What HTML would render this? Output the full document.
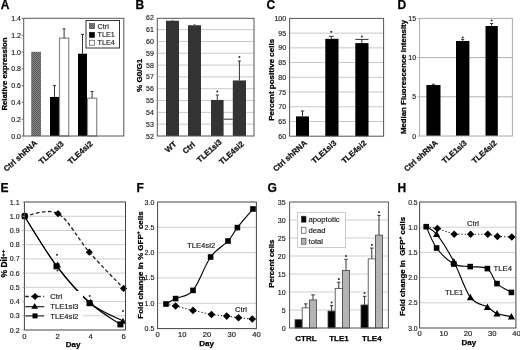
<!DOCTYPE html>
<html><head><meta charset="utf-8"><style>
html,body{margin:0;padding:0;background:#fff;}
svg{display:block;font-family:"Liberation Sans", sans-serif;will-change:transform;filter:blur(0.3px);}
</style></head><body>
<svg width="520" height="350" viewBox="0 0 520 350">
<defs>
<pattern id="hatch" width="2" height="2" patternUnits="userSpaceOnUse">
<rect width="2" height="2" fill="#8a8a8a"/><rect width="1" height="1" fill="#555"/><rect x="1" y="1" width="1" height="1" fill="#555"/>
</pattern>
</defs>
<rect width="520" height="350" fill="#fff"/>
<text x="0.8" y="9" font-size="12" font-weight="bold" stroke="#000" stroke-width="0.25" text-anchor="start" fill="#000">A</text>
<rect x="31.2" y="51.8" width="9.8" height="84.2" fill="url(#hatch)"/>
<rect x="50" y="96.94" width="9" height="39.06" fill="#000" stroke="none" stroke-width="1"/>
<rect x="59.5" y="38.14" width="9.2" height="97.86" fill="#fff" stroke="#888" stroke-width="1.2"/>
<line x1="54.5" y1="96.94" x2="54.5" y2="85.6" stroke="#333" stroke-width="1"/>
<line x1="53.0" y1="85.6" x2="56.0" y2="85.6" stroke="#333" stroke-width="1"/>
<line x1="64.1" y1="38.14" x2="64.1" y2="28.900000000000006" stroke="#333" stroke-width="1"/>
<line x1="62.599999999999994" y1="28.900000000000006" x2="65.6" y2="28.900000000000006" stroke="#333" stroke-width="1"/>
<rect x="78" y="53.68000000000001" width="9" height="82.32" fill="#000" stroke="none" stroke-width="1"/>
<rect x="87.5" y="98.19999999999999" width="9.2" height="37.80000000000001" fill="#fff" stroke="#888" stroke-width="1.2"/>
<line x1="82.5" y1="53.68000000000001" x2="82.5" y2="34.36" stroke="#333" stroke-width="1"/>
<line x1="81.0" y1="34.36" x2="84.0" y2="34.36" stroke="#333" stroke-width="1"/>
<line x1="92.1" y1="98.19999999999999" x2="92.1" y2="91.47999999999999" stroke="#333" stroke-width="1"/>
<line x1="90.6" y1="91.47999999999999" x2="93.6" y2="91.47999999999999" stroke="#333" stroke-width="1"/>
<rect x="23.7" y="18.3" width="100.1" height="117.7" fill="none" stroke="#555" stroke-width="1"/>
<line x1="21.7" y1="136" x2="23.7" y2="136" stroke="#666" stroke-width="1"/>
<text x="21.0" y="138.5" font-size="7" text-anchor="end" fill="#1a1a1a" stroke="#1a1a1a" stroke-width="0.15">0.0</text>
<line x1="21.7" y1="119.2" x2="23.7" y2="119.2" stroke="#666" stroke-width="1"/>
<text x="21.0" y="121.7" font-size="7" text-anchor="end" fill="#1a1a1a" stroke="#1a1a1a" stroke-width="0.15">0.2</text>
<line x1="21.7" y1="102.4" x2="23.7" y2="102.4" stroke="#666" stroke-width="1"/>
<text x="21.0" y="104.9" font-size="7" text-anchor="end" fill="#1a1a1a" stroke="#1a1a1a" stroke-width="0.15">0.4</text>
<line x1="21.7" y1="85.6" x2="23.7" y2="85.6" stroke="#666" stroke-width="1"/>
<text x="21.0" y="88.1" font-size="7" text-anchor="end" fill="#1a1a1a" stroke="#1a1a1a" stroke-width="0.15">0.6</text>
<line x1="21.7" y1="68.8" x2="23.7" y2="68.8" stroke="#666" stroke-width="1"/>
<text x="21.0" y="71.3" font-size="7" text-anchor="end" fill="#1a1a1a" stroke="#1a1a1a" stroke-width="0.15">0.8</text>
<line x1="21.7" y1="52.0" x2="23.7" y2="52.0" stroke="#666" stroke-width="1"/>
<text x="21.0" y="54.5" font-size="7" text-anchor="end" fill="#1a1a1a" stroke="#1a1a1a" stroke-width="0.15">1.0</text>
<line x1="21.7" y1="35.2" x2="23.7" y2="35.2" stroke="#666" stroke-width="1"/>
<text x="21.0" y="37.7" font-size="7" text-anchor="end" fill="#1a1a1a" stroke="#1a1a1a" stroke-width="0.15">1.2</text>
<line x1="21.7" y1="18.400000000000006" x2="23.7" y2="18.400000000000006" stroke="#666" stroke-width="1"/>
<text x="21.0" y="20.900000000000006" font-size="7" text-anchor="end" fill="#1a1a1a" stroke="#1a1a1a" stroke-width="0.15">1.4</text>
<rect x="86" y="20.5" width="33.5" height="27.5" fill="#fff" stroke="#333" stroke-width="1"/>
<rect x="89.5" y="23.6" width="5" height="5" fill="url(#hatch)" stroke="#333" stroke-width="0.6"/>
<rect x="89.5" y="32.4" width="5" height="5" fill="#000" stroke="#000" stroke-width="0.6"/>
<rect x="89.5" y="40.2" width="5" height="5" fill="#fff" stroke="#333" stroke-width="0.6"/>
<text x="97.6" y="29" font-size="7.2" text-anchor="start" fill="#222" stroke="#222" stroke-width="0.15">Ctrl</text>
<text x="97.6" y="36.6" font-size="7.2" text-anchor="start" fill="#222" stroke="#222" stroke-width="0.15">TLE1</text>
<text x="97.6" y="45" font-size="7.2" text-anchor="start" fill="#222" stroke="#222" stroke-width="0.15">TLE4</text>
<text x="7.2" y="74" font-size="7.8" font-weight="bold" stroke="#000" stroke-width="0.25" text-anchor="middle" fill="#000" transform="rotate(-90 7.2 74)">Relative expression</text>
<text x="37.8" y="143.8" font-size="7.9" font-weight="bold" stroke="#111" stroke-width="0.25" text-anchor="end" fill="#111" transform="rotate(-42 37.8 143.8)">Ctrl shRNA</text>
<text x="64.3" y="144.5" font-size="7.9" font-weight="bold" stroke="#111" stroke-width="0.25" text-anchor="end" fill="#111" transform="rotate(-42 64.3 144.5)">TLE1si3</text>
<text x="93.2" y="144.5" font-size="7.9" font-weight="bold" stroke="#111" stroke-width="0.25" text-anchor="end" fill="#111" transform="rotate(-42 93.2 144.5)">TLE4si2</text>
<text x="135.5" y="9" font-size="12" font-weight="bold" stroke="#000" stroke-width="0.25" text-anchor="start" fill="#000">B</text>
<line x1="157.3" y1="124.18" x2="254" y2="124.18" stroke="#c8c8c8" stroke-width="1"/>
<line x1="157.3" y1="112.36" x2="254" y2="112.36" stroke="#c8c8c8" stroke-width="1"/>
<line x1="157.3" y1="100.53999999999999" x2="254" y2="100.53999999999999" stroke="#c8c8c8" stroke-width="1"/>
<line x1="157.3" y1="88.72" x2="254" y2="88.72" stroke="#c8c8c8" stroke-width="1"/>
<line x1="157.3" y1="76.9" x2="254" y2="76.9" stroke="#c8c8c8" stroke-width="1"/>
<line x1="157.3" y1="65.08" x2="254" y2="65.08" stroke="#c8c8c8" stroke-width="1"/>
<line x1="157.3" y1="53.25999999999999" x2="254" y2="53.25999999999999" stroke="#c8c8c8" stroke-width="1"/>
<line x1="157.3" y1="41.44" x2="254" y2="41.44" stroke="#c8c8c8" stroke-width="1"/>
<line x1="157.3" y1="29.620000000000005" x2="254" y2="29.620000000000005" stroke="#c8c8c8" stroke-width="1"/>
<rect x="166" y="20.754999999999995" width="13" height="115.245" fill="#333" stroke="none" stroke-width="1"/>
<rect x="188" y="25.24660000000003" width="13" height="110.75339999999997" fill="#333" stroke="none" stroke-width="1"/>
<rect x="211" y="99.94900000000004" width="12.6" height="36.05099999999996" fill="#333" stroke="none" stroke-width="1"/>
<rect x="232.8" y="80.44599999999997" width="13.2" height="55.55400000000003" fill="#333" stroke="none" stroke-width="1"/>
<line x1="223.5" y1="119.2" x2="232.8" y2="119.2" stroke="#333" stroke-width="1"/>
<line x1="172.5" y1="20.754999999999995" x2="172.5" y2="20.40039999999999" stroke="#777" stroke-width="1"/>
<line x1="171.5" y1="20.40039999999999" x2="173.5" y2="20.40039999999999" stroke="#777" stroke-width="1"/>
<line x1="194.5" y1="25.24660000000003" x2="194.5" y2="24.65559999999998" stroke="#777" stroke-width="1"/>
<line x1="193.5" y1="24.65559999999998" x2="195.5" y2="24.65559999999998" stroke="#777" stroke-width="1"/>
<line x1="217.3" y1="99.94900000000004" x2="217.3" y2="95" stroke="#333" stroke-width="1"/>
<line x1="215.8" y1="95" x2="218.8" y2="95" stroke="#333" stroke-width="1"/>
<line x1="239.4" y1="80.44599999999997" x2="239.4" y2="61" stroke="#333" stroke-width="1"/>
<line x1="237.9" y1="61" x2="240.9" y2="61" stroke="#333" stroke-width="1"/>
<rect x="216.45" y="90.65" width="1.7" height="1.7" fill="#222"/>
<rect x="238.55" y="56.15" width="1.7" height="1.7" fill="#222"/>
<rect x="157.3" y="18.3" width="96.69999999999999" height="117.7" fill="none" stroke="#555" stroke-width="1"/>
<text x="153.8" y="138.5" font-size="7" text-anchor="end" fill="#1a1a1a" stroke="#1a1a1a" stroke-width="0.15">52</text>
<text x="153.8" y="126.68" font-size="7" text-anchor="end" fill="#1a1a1a" stroke="#1a1a1a" stroke-width="0.15">53</text>
<text x="153.8" y="114.86" font-size="7" text-anchor="end" fill="#1a1a1a" stroke="#1a1a1a" stroke-width="0.15">54</text>
<text x="153.8" y="103.03999999999999" font-size="7" text-anchor="end" fill="#1a1a1a" stroke="#1a1a1a" stroke-width="0.15">55</text>
<text x="153.8" y="91.22" font-size="7" text-anchor="end" fill="#1a1a1a" stroke="#1a1a1a" stroke-width="0.15">56</text>
<text x="153.8" y="79.4" font-size="7" text-anchor="end" fill="#1a1a1a" stroke="#1a1a1a" stroke-width="0.15">57</text>
<text x="153.8" y="67.58" font-size="7" text-anchor="end" fill="#1a1a1a" stroke="#1a1a1a" stroke-width="0.15">58</text>
<text x="153.8" y="55.75999999999999" font-size="7" text-anchor="end" fill="#1a1a1a" stroke="#1a1a1a" stroke-width="0.15">59</text>
<text x="153.8" y="43.94" font-size="7" text-anchor="end" fill="#1a1a1a" stroke="#1a1a1a" stroke-width="0.15">60</text>
<text x="153.8" y="32.120000000000005" font-size="7" text-anchor="end" fill="#1a1a1a" stroke="#1a1a1a" stroke-width="0.15">61</text>
<text x="153.8" y="20.299999999999997" font-size="7" text-anchor="end" fill="#1a1a1a" stroke="#1a1a1a" stroke-width="0.15">62</text>
<text x="142" y="75.3" font-size="8.1" font-weight="bold" stroke="#000" stroke-width="0.25" text-anchor="middle" fill="#000" transform="rotate(-90 142 75.3)">% G0/G1</text>
<text x="177.2" y="144.8" font-size="7.9" font-weight="bold" stroke="#111" stroke-width="0.25" text-anchor="end" fill="#111" transform="rotate(-42 177.2 144.8)">WT</text>
<text x="195.6" y="145.2" font-size="7.9" font-weight="bold" stroke="#111" stroke-width="0.25" text-anchor="end" fill="#111" transform="rotate(-42 195.6 145.2)">Ctrl</text>
<text x="222.3" y="142.8" font-size="7.9" font-weight="bold" stroke="#111" stroke-width="0.25" text-anchor="end" fill="#111" transform="rotate(-42 222.3 142.8)">TLE1si3</text>
<text x="244.5" y="144.7" font-size="7.9" font-weight="bold" stroke="#111" stroke-width="0.25" text-anchor="end" fill="#111" transform="rotate(-42 244.5 144.7)">TLE4si2</text>
<text x="266.5" y="9" font-size="12" font-weight="bold" stroke="#000" stroke-width="0.25" text-anchor="start" fill="#000">C</text>
<line x1="289.6" y1="121.475" x2="383.6" y2="121.475" stroke="#c8c8c8" stroke-width="1"/>
<line x1="289.6" y1="106.74999999999999" x2="383.6" y2="106.74999999999999" stroke="#c8c8c8" stroke-width="1"/>
<line x1="289.6" y1="92.02499999999999" x2="383.6" y2="92.02499999999999" stroke="#c8c8c8" stroke-width="1"/>
<line x1="289.6" y1="77.29999999999998" x2="383.6" y2="77.29999999999998" stroke="#c8c8c8" stroke-width="1"/>
<line x1="289.6" y1="62.57499999999999" x2="383.6" y2="62.57499999999999" stroke="#c8c8c8" stroke-width="1"/>
<line x1="289.6" y1="47.849999999999994" x2="383.6" y2="47.849999999999994" stroke="#c8c8c8" stroke-width="1"/>
<line x1="289.6" y1="33.125" x2="383.6" y2="33.125" stroke="#c8c8c8" stroke-width="1"/>
<rect x="296" y="116.4" width="13" height="19.799999999999983" fill="#000" stroke="none" stroke-width="1"/>
<rect x="325.3" y="38.8" width="13.2" height="97.39999999999999" fill="#000" stroke="none" stroke-width="1"/>
<rect x="355.3" y="43.1" width="13.2" height="93.1" fill="#000" stroke="none" stroke-width="1"/>
<line x1="302.5" y1="116.4" x2="302.5" y2="111" stroke="#333" stroke-width="1"/>
<line x1="300.75" y1="111" x2="304.25" y2="111" stroke="#333" stroke-width="1"/>
<line x1="331.3" y1="38.8" x2="331.3" y2="36.3" stroke="#333" stroke-width="1"/>
<line x1="328.8" y1="36.3" x2="333.8" y2="36.3" stroke="#333" stroke-width="1"/>
<line x1="361.8" y1="43.1" x2="361.8" y2="39.4" stroke="#333" stroke-width="1"/>
<line x1="355.3" y1="39.4" x2="368.5" y2="39.4" stroke="#333" stroke-width="1"/>
<rect x="330.45" y="30.95" width="1.7" height="1.7" fill="#222"/>
<rect x="360.95" y="35.65" width="1.7" height="1.7" fill="#222"/>
<rect x="289.6" y="18.4" width="94.0" height="117.79999999999998" fill="none" stroke="#555" stroke-width="1"/>
<text x="286.1" y="138.7" font-size="7" text-anchor="end" fill="#1a1a1a" stroke="#1a1a1a" stroke-width="0.15">60</text>
<text x="286.1" y="123.975" font-size="7" text-anchor="end" fill="#1a1a1a" stroke="#1a1a1a" stroke-width="0.15">65</text>
<text x="286.1" y="109.24999999999999" font-size="7" text-anchor="end" fill="#1a1a1a" stroke="#1a1a1a" stroke-width="0.15">70</text>
<text x="286.1" y="94.52499999999999" font-size="7" text-anchor="end" fill="#1a1a1a" stroke="#1a1a1a" stroke-width="0.15">75</text>
<text x="286.1" y="79.79999999999998" font-size="7" text-anchor="end" fill="#1a1a1a" stroke="#1a1a1a" stroke-width="0.15">80</text>
<text x="286.1" y="65.07499999999999" font-size="7" text-anchor="end" fill="#1a1a1a" stroke="#1a1a1a" stroke-width="0.15">85</text>
<text x="286.1" y="50.349999999999994" font-size="7" text-anchor="end" fill="#1a1a1a" stroke="#1a1a1a" stroke-width="0.15">90</text>
<text x="286.1" y="35.625" font-size="7" text-anchor="end" fill="#1a1a1a" stroke="#1a1a1a" stroke-width="0.15">95</text>
<text x="286.1" y="20.89999999999999" font-size="7" text-anchor="end" fill="#1a1a1a" stroke="#1a1a1a" stroke-width="0.15">100</text>
<text x="274" y="79.8" font-size="8" font-weight="bold" stroke="#000" stroke-width="0.25" text-anchor="middle" fill="#000" transform="rotate(-90 274 79.8)">Percent positive cells</text>
<text x="307.4" y="143.8" font-size="7.9" font-weight="bold" stroke="#111" stroke-width="0.25" text-anchor="end" fill="#111" transform="rotate(-42 307.4 143.8)">Ctrl shRNA</text>
<text x="337" y="143.8" font-size="7.9" font-weight="bold" stroke="#111" stroke-width="0.25" text-anchor="end" fill="#111" transform="rotate(-42 337 143.8)">TLE1si3</text>
<text x="367" y="143.8" font-size="7.9" font-weight="bold" stroke="#111" stroke-width="0.25" text-anchor="end" fill="#111" transform="rotate(-42 367 143.8)">TLE4si2</text>
<text x="397.5" y="9" font-size="12" font-weight="bold" stroke="#000" stroke-width="0.25" text-anchor="start" fill="#000">D</text>
<line x1="419.6" y1="96.8" x2="512.4" y2="96.8" stroke="#b0b0b0" stroke-width="1"/>
<line x1="419.6" y1="57.599999999999994" x2="512.4" y2="57.599999999999994" stroke="#b0b0b0" stroke-width="1"/>
<rect x="426.4" y="85" width="14.1" height="51" fill="#000" stroke="none" stroke-width="1"/>
<rect x="456" y="41" width="13.4" height="95" fill="#000" stroke="none" stroke-width="1"/>
<rect x="485.5" y="26" width="12.3" height="110" fill="#000" stroke="none" stroke-width="1"/>
<line x1="433.4" y1="85" x2="433.4" y2="84.2" stroke="#333" stroke-width="1"/>
<line x1="431.9" y1="84.2" x2="434.9" y2="84.2" stroke="#333" stroke-width="1"/>
<line x1="462.7" y1="41" x2="462.7" y2="39.4" stroke="#333" stroke-width="1"/>
<line x1="461.2" y1="39.4" x2="464.2" y2="39.4" stroke="#333" stroke-width="1"/>
<line x1="491.6" y1="26" x2="491.6" y2="23.5" stroke="#333" stroke-width="1"/>
<line x1="490.1" y1="23.5" x2="493.1" y2="23.5" stroke="#333" stroke-width="1"/>
<rect x="461.85" y="36.65" width="1.7" height="1.7" fill="#222"/>
<rect x="490.75" y="19.65" width="1.7" height="1.7" fill="#222"/>
<rect x="419.6" y="18.4" width="92.79999999999995" height="117.6" fill="none" stroke="#aaa" stroke-width="1"/>
<line x1="417.6" y1="136.0" x2="419.6" y2="136.0" stroke="#aaa" stroke-width="1"/>
<text x="416.1" y="138.5" font-size="7" text-anchor="end" fill="#1a1a1a" stroke="#1a1a1a" stroke-width="0.15">0</text>
<line x1="417.6" y1="96.8" x2="419.6" y2="96.8" stroke="#aaa" stroke-width="1"/>
<text x="416.1" y="99.3" font-size="7" text-anchor="end" fill="#1a1a1a" stroke="#1a1a1a" stroke-width="0.15">5</text>
<line x1="417.6" y1="57.599999999999994" x2="419.6" y2="57.599999999999994" stroke="#aaa" stroke-width="1"/>
<text x="416.1" y="60.099999999999994" font-size="7" text-anchor="end" fill="#1a1a1a" stroke="#1a1a1a" stroke-width="0.15">10</text>
<line x1="417.6" y1="18.400000000000006" x2="419.6" y2="18.400000000000006" stroke="#aaa" stroke-width="1"/>
<text x="416.1" y="20.900000000000006" font-size="7" text-anchor="end" fill="#1a1a1a" stroke="#1a1a1a" stroke-width="0.15">15</text>
<text x="405.6" y="77" font-size="7.85" font-weight="bold" stroke="#000" stroke-width="0.25" text-anchor="middle" fill="#000" transform="rotate(-90 405.6 77)">Median Fluorescence Intensity</text>
<text x="438.3" y="143.8" font-size="7.9" font-weight="bold" stroke="#111" stroke-width="0.25" text-anchor="end" fill="#111" transform="rotate(-42 438.3 143.8)">Ctrl shRNA</text>
<text x="467.3" y="143.8" font-size="7.9" font-weight="bold" stroke="#111" stroke-width="0.25" text-anchor="end" fill="#111" transform="rotate(-42 467.3 143.8)">TLE1si3</text>
<text x="497.3" y="143.8" font-size="7.9" font-weight="bold" stroke="#111" stroke-width="0.25" text-anchor="end" fill="#111" transform="rotate(-42 497.3 143.8)">TLE4si2</text>
<text x="0.5" y="191.6" font-size="12" font-weight="bold" stroke="#000" stroke-width="0.25" text-anchor="start" fill="#000">E</text>
<line x1="24.4" y1="315.78000000000003" x2="125.5" y2="315.78000000000003" stroke="#cfcfcf" stroke-width="1"/>
<line x1="24.4" y1="301.56" x2="125.5" y2="301.56" stroke="#cfcfcf" stroke-width="1"/>
<line x1="24.4" y1="287.34000000000003" x2="125.5" y2="287.34000000000003" stroke="#cfcfcf" stroke-width="1"/>
<line x1="24.4" y1="273.12" x2="125.5" y2="273.12" stroke="#cfcfcf" stroke-width="1"/>
<line x1="24.4" y1="258.90000000000003" x2="125.5" y2="258.90000000000003" stroke="#cfcfcf" stroke-width="1"/>
<line x1="24.4" y1="244.68" x2="125.5" y2="244.68" stroke="#cfcfcf" stroke-width="1"/>
<line x1="24.4" y1="230.46" x2="125.5" y2="230.46" stroke="#cfcfcf" stroke-width="1"/>
<line x1="24.4" y1="216.24" x2="125.5" y2="216.24" stroke="#cfcfcf" stroke-width="1"/>
<path d="M24.40 216.20C30.00 215.78 47.18 207.70 58.00 213.70C68.82 219.70 78.37 239.75 89.30 252.20C100.23 264.65 117.88 282.37 123.60 288.40" fill="none" stroke="#222" stroke-width="1.3" stroke-dasharray="3.6,2.4"/>
<path d="M24.40 216.20C29.80 224.53 45.87 251.73 56.80 266.20C67.73 280.67 79.40 293.30 90.00 303.00C100.60 312.70 115.33 320.83 120.40 324.40" fill="none" stroke="#000" stroke-width="1.1"/>
<path d="M24.40 216.20C29.80 224.53 45.87 251.73 56.80 266.20C67.73 280.67 78.97 293.87 90.00 303.00C101.03 312.13 117.50 318.00 123.00 321.00" fill="none" stroke="#000" stroke-width="1.1"/>
<circle cx="24.7" cy="216" r="3.3" fill="#000"/>
<rect x="21.9" y="213.6" width="5.6" height="5.6" fill="#000"/>
<path d="M58 210.1L61.6 213.7L58 217.29999999999998L54.4 213.7Z" fill="#000"/>
<path d="M89.3 248.6L92.89999999999999 252.2L89.3 255.79999999999998L85.7 252.2Z" fill="#000"/>
<path d="M123.6 284.79999999999995L127.19999999999999 288.4L123.6 292.0L120.0 288.4Z" fill="#000"/>
<rect x="53.5" y="263.3" width="6" height="6" fill="#000"/>
<path d="M57.6 261.5L60.9 267.44L54.300000000000004 267.44Z" fill="#000"/>
<rect x="86.5" y="300.2" width="6" height="6" fill="#000"/>
<path d="M90.5 298.7L93.8 304.64L87.2 304.64Z" fill="#000"/>
<rect x="117.4" y="321.4" width="6" height="6" fill="#000"/>
<path d="M123 317.7L126.3 323.64L119.7 323.64Z" fill="#000"/>
<rect x="56.15" y="253.95" width="1.7" height="1.7" fill="#222"/>
<rect x="56.65" y="269.65" width="1.7" height="1.7" fill="#222"/>
<rect x="88.85" y="295.15" width="1.7" height="1.7" fill="#222"/>
<rect x="122.15" y="310.15" width="1.7" height="1.7" fill="#222"/>
<rect x="24.4" y="202" width="101.1" height="128" fill="none" stroke="#444" stroke-width="1"/>
<line x1="22.4" y1="330.0" x2="24.4" y2="330.0" stroke="#aaa" stroke-width="1"/>
<text x="19.599999999999998" y="332.5" font-size="7" text-anchor="end" fill="#1a1a1a" stroke="#1a1a1a" stroke-width="0.15">0.2</text>
<line x1="22.4" y1="315.78000000000003" x2="24.4" y2="315.78000000000003" stroke="#aaa" stroke-width="1"/>
<text x="19.599999999999998" y="318.28000000000003" font-size="7" text-anchor="end" fill="#1a1a1a" stroke="#1a1a1a" stroke-width="0.15">0.3</text>
<line x1="22.4" y1="301.56" x2="24.4" y2="301.56" stroke="#aaa" stroke-width="1"/>
<text x="19.599999999999998" y="304.06" font-size="7" text-anchor="end" fill="#1a1a1a" stroke="#1a1a1a" stroke-width="0.15">0.4</text>
<line x1="22.4" y1="287.34000000000003" x2="24.4" y2="287.34000000000003" stroke="#aaa" stroke-width="1"/>
<text x="19.599999999999998" y="289.84000000000003" font-size="7" text-anchor="end" fill="#1a1a1a" stroke="#1a1a1a" stroke-width="0.15">0.5</text>
<line x1="22.4" y1="273.12" x2="24.4" y2="273.12" stroke="#aaa" stroke-width="1"/>
<text x="19.599999999999998" y="275.62" font-size="7" text-anchor="end" fill="#1a1a1a" stroke="#1a1a1a" stroke-width="0.15">0.6</text>
<line x1="22.4" y1="258.90000000000003" x2="24.4" y2="258.90000000000003" stroke="#aaa" stroke-width="1"/>
<text x="19.599999999999998" y="261.40000000000003" font-size="7" text-anchor="end" fill="#1a1a1a" stroke="#1a1a1a" stroke-width="0.15">0.7</text>
<line x1="22.4" y1="244.68" x2="24.4" y2="244.68" stroke="#aaa" stroke-width="1"/>
<text x="19.599999999999998" y="247.18" font-size="7" text-anchor="end" fill="#1a1a1a" stroke="#1a1a1a" stroke-width="0.15">0.8</text>
<line x1="22.4" y1="230.46" x2="24.4" y2="230.46" stroke="#aaa" stroke-width="1"/>
<text x="19.599999999999998" y="232.96" font-size="7" text-anchor="end" fill="#1a1a1a" stroke="#1a1a1a" stroke-width="0.15">0.9</text>
<line x1="22.4" y1="216.24" x2="24.4" y2="216.24" stroke="#aaa" stroke-width="1"/>
<text x="19.599999999999998" y="218.74" font-size="7" text-anchor="end" fill="#1a1a1a" stroke="#1a1a1a" stroke-width="0.15">1.0</text>
<line x1="22.4" y1="202.01999999999998" x2="24.4" y2="202.01999999999998" stroke="#aaa" stroke-width="1"/>
<text x="19.599999999999998" y="204.51999999999998" font-size="7" text-anchor="end" fill="#1a1a1a" stroke="#1a1a1a" stroke-width="0.15">1.1</text>
<text x="24.4" y="339.3" font-size="7.6" text-anchor="middle" fill="#222" stroke="#222" stroke-width="0.18">0</text>
<text x="57.5" y="339.3" font-size="7.6" text-anchor="middle" fill="#222" stroke="#222" stroke-width="0.18">2</text>
<text x="90.6" y="339.3" font-size="7.6" text-anchor="middle" fill="#222" stroke="#222" stroke-width="0.18">4</text>
<text x="123.70000000000002" y="339.3" font-size="7.6" text-anchor="middle" fill="#222" stroke="#222" stroke-width="0.18">6</text>
<text x="73" y="347.2" font-size="8" font-weight="bold" stroke="#000" stroke-width="0.25" text-anchor="middle" fill="#000">Day</text>
<rect x="25" y="291" width="58" height="30" fill="#fff" stroke="none" stroke-width="1"/>
<line x1="25.2" y1="296.5" x2="44.2" y2="296.5" stroke="#222" stroke-width="1.3" stroke-dasharray="3.6,2.4"/>
<path d="M35 292.9L38.6 296.5L35 300.1L31.4 296.5Z" fill="#000"/>
<line x1="25.2" y1="306.7" x2="44.2" y2="306.7" stroke="#111" stroke-width="1.1"/>
<path d="M34.7 302.9L38.0 308.84L31.400000000000002 308.84Z" fill="#000"/>
<line x1="25.2" y1="315.9" x2="44.2" y2="315.9" stroke="#111" stroke-width="1.1"/>
<rect x="32.5" y="313.4" width="5.0" height="5.0" fill="#000"/>
<text x="50.2" y="299.2" font-size="7.7" text-anchor="start" fill="#222" stroke="#222" stroke-width="0.18">Ctrl</text>
<text x="50.2" y="309.4" font-size="7.7" text-anchor="start" fill="#222" stroke="#222" stroke-width="0.18">TLE1si3</text>
<text x="50.2" y="318.6" font-size="7.7" text-anchor="start" fill="#222" stroke="#222" stroke-width="0.18">TLE4si2</text>
<text x="6.6" y="263.6" font-size="8.5" font-weight="bold" stroke="#000" stroke-width="0.25" text-anchor="middle" fill="#000" transform="rotate(-90 6.6 263.6)">% DiI<tspan font-size="6" dy="-1.2">++</tspan></text>
<text x="136.5" y="191.6" font-size="12" font-weight="bold" stroke="#000" stroke-width="0.25" text-anchor="start" fill="#000">F</text>
<line x1="157.6" y1="303.28000000000003" x2="256.4" y2="303.28000000000003" stroke="#cfcfcf" stroke-width="1"/>
<line x1="157.6" y1="277.96000000000004" x2="256.4" y2="277.96000000000004" stroke="#cfcfcf" stroke-width="1"/>
<line x1="157.6" y1="252.64000000000001" x2="256.4" y2="252.64000000000001" stroke="#cfcfcf" stroke-width="1"/>
<line x1="157.6" y1="227.32000000000002" x2="256.4" y2="227.32000000000002" stroke="#cfcfcf" stroke-width="1"/>
<path d="M166.00 304.00C167.60 303.10 171.10 300.87 175.60 298.60C180.10 296.33 187.17 297.33 193.00 290.40C198.83 283.47 204.77 265.23 210.60 257.00C216.43 248.77 223.53 245.90 228.00 241.00C232.47 236.10 233.23 232.93 237.40 227.60C241.57 222.27 250.40 212.10 253.00 209.00" fill="none" stroke="#000" stroke-width="1.1"/>
<path d="M166.00 304.00L175.60 306.00L193.00 310.40L211.50 314.50L226.70 316.10L238.50 317.70L252.30 319.00" fill="none" stroke="#222" stroke-width="1.1" stroke-dasharray="1.3,2"/>
<rect x="163.2" y="301.2" width="5.6" height="5.6" fill="#000"/>
<rect x="172.79999999999998" y="295.8" width="5.6" height="5.6" fill="#000"/>
<rect x="190.2" y="287.59999999999997" width="5.6" height="5.6" fill="#000"/>
<rect x="207.79999999999998" y="254.2" width="5.6" height="5.6" fill="#000"/>
<rect x="225.2" y="238.2" width="5.6" height="5.6" fill="#000"/>
<rect x="234.6" y="224.79999999999998" width="5.6" height="5.6" fill="#000"/>
<rect x="250.2" y="206.2" width="5.6" height="5.6" fill="#000"/>
<path d="M175.6 302.2L179.4 306L175.6 309.8L171.79999999999998 306Z" fill="#000"/>
<path d="M193 306.59999999999997L196.8 310.4L193 314.2L189.2 310.4Z" fill="#000"/>
<path d="M211.5 310.7L215.3 314.5L211.5 318.3L207.7 314.5Z" fill="#000"/>
<path d="M226.7 312.3L230.5 316.1L226.7 319.90000000000003L222.89999999999998 316.1Z" fill="#000"/>
<path d="M238.5 313.9L242.3 317.7L238.5 321.5L234.7 317.7Z" fill="#000"/>
<path d="M252.3 315.2L256.1 319L252.3 322.8L248.5 319Z" fill="#000"/>
<rect x="157.6" y="202" width="98.79999999999998" height="126.60000000000002" fill="none" stroke="#444" stroke-width="1"/>
<text x="154.29999999999998" y="331.1" font-size="7" text-anchor="end" fill="#1a1a1a" stroke="#1a1a1a" stroke-width="0.15">0.5</text>
<text x="154.29999999999998" y="305.78000000000003" font-size="7" text-anchor="end" fill="#1a1a1a" stroke="#1a1a1a" stroke-width="0.15">1.0</text>
<text x="154.29999999999998" y="280.46000000000004" font-size="7" text-anchor="end" fill="#1a1a1a" stroke="#1a1a1a" stroke-width="0.15">1.5</text>
<text x="154.29999999999998" y="255.14000000000001" font-size="7" text-anchor="end" fill="#1a1a1a" stroke="#1a1a1a" stroke-width="0.15">2.0</text>
<text x="154.29999999999998" y="229.82000000000002" font-size="7" text-anchor="end" fill="#1a1a1a" stroke="#1a1a1a" stroke-width="0.15">2.5</text>
<text x="154.29999999999998" y="204.50000000000003" font-size="7" text-anchor="end" fill="#1a1a1a" stroke="#1a1a1a" stroke-width="0.15">3.0</text>
<text x="157.6" y="337.4" font-size="7.6" text-anchor="middle" fill="#222" stroke="#222" stroke-width="0.18">0</text>
<text x="182.3" y="337.4" font-size="7.6" text-anchor="middle" fill="#222" stroke="#222" stroke-width="0.18">10</text>
<text x="207.0" y="337.4" font-size="7.6" text-anchor="middle" fill="#222" stroke="#222" stroke-width="0.18">20</text>
<text x="231.7" y="337.4" font-size="7.6" text-anchor="middle" fill="#222" stroke="#222" stroke-width="0.18">30</text>
<text x="256.4" y="337.4" font-size="7.6" text-anchor="middle" fill="#222" stroke="#222" stroke-width="0.18">40</text>
<text x="206.5" y="346.3" font-size="8" font-weight="bold" stroke="#000" stroke-width="0.25" text-anchor="middle" fill="#000">Day</text>
<text x="187" y="248.4" font-size="7.7" text-anchor="start" fill="#222" stroke="#222" stroke-width="0.18">TLE4si2</text>
<text x="235" y="312.3" font-size="7.7" text-anchor="start" fill="#222" stroke="#222" stroke-width="0.18">Ctrl</text>
<text x="143.3" y="265" font-size="8" font-weight="bold" stroke="#000" stroke-width="0.25" text-anchor="middle" fill="#000" transform="rotate(-90 143.3 265)">Fold change in % GFP<tspan font-size="5" dy="-3">+</tspan><tspan dy="3"> cells</tspan></text>
<text x="267.5" y="191.6" font-size="12" font-weight="bold" stroke="#000" stroke-width="0.25" text-anchor="start" fill="#000">G</text>
<line x1="289.6" y1="310.0" x2="388.4" y2="310.0" stroke="#cfcfcf" stroke-width="1"/>
<line x1="289.6" y1="292.0" x2="388.4" y2="292.0" stroke="#cfcfcf" stroke-width="1"/>
<line x1="289.6" y1="274.0" x2="388.4" y2="274.0" stroke="#cfcfcf" stroke-width="1"/>
<line x1="289.6" y1="256.0" x2="388.4" y2="256.0" stroke="#cfcfcf" stroke-width="1"/>
<line x1="289.6" y1="238.0" x2="388.4" y2="238.0" stroke="#cfcfcf" stroke-width="1"/>
<line x1="289.6" y1="220.0" x2="388.4" y2="220.0" stroke="#cfcfcf" stroke-width="1"/>
<rect x="295.0" y="319.72" width="7.2" height="8.279999999999973" fill="#000" stroke="#444" stroke-width="0.8"/>
<line x1="305.8" y1="307.84" x2="305.8" y2="303.88" stroke="#333" stroke-width="1"/>
<line x1="304.05" y1="303.88" x2="307.55" y2="303.88" stroke="#333" stroke-width="1"/>
<rect x="302.2" y="307.84" width="7.2" height="20.160000000000025" fill="#fff" stroke="#444" stroke-width="0.8"/>
<line x1="313.0" y1="299.92" x2="313.0" y2="294.88" stroke="#333" stroke-width="1"/>
<line x1="311.25" y1="294.88" x2="314.75" y2="294.88" stroke="#333" stroke-width="1"/>
<rect x="309.4" y="299.92" width="7.2" height="28.079999999999984" fill="#b4b4b4" stroke="#444" stroke-width="0.8"/>
<line x1="331.6" y1="311.08" x2="331.6" y2="305.68" stroke="#333" stroke-width="1"/>
<line x1="329.85" y1="305.68" x2="333.35" y2="305.68" stroke="#333" stroke-width="1"/>
<rect x="330.75" y="301.63" width="1.7" height="1.7" fill="#222"/>
<rect x="328.0" y="311.08" width="7.2" height="16.920000000000016" fill="#000" stroke="#444" stroke-width="0.8"/>
<line x1="338.8" y1="288.4" x2="338.8" y2="282.28" stroke="#333" stroke-width="1"/>
<line x1="337.05" y1="282.28" x2="340.55" y2="282.28" stroke="#333" stroke-width="1"/>
<rect x="337.95" y="278.23" width="1.7" height="1.7" fill="#222"/>
<rect x="335.2" y="288.4" width="7.2" height="39.60000000000002" fill="#fff" stroke="#444" stroke-width="0.8"/>
<line x1="346.0" y1="270.4" x2="346.0" y2="259.24" stroke="#333" stroke-width="1"/>
<line x1="344.25" y1="259.24" x2="347.75" y2="259.24" stroke="#333" stroke-width="1"/>
<rect x="345.15" y="255.19" width="1.7" height="1.7" fill="#222"/>
<rect x="342.4" y="270.4" width="7.2" height="57.60000000000002" fill="#b4b4b4" stroke="#444" stroke-width="0.8"/>
<line x1="364.6" y1="304.96" x2="364.6" y2="296.32" stroke="#333" stroke-width="1"/>
<line x1="362.85" y1="296.32" x2="366.35" y2="296.32" stroke="#333" stroke-width="1"/>
<rect x="363.75" y="292.27" width="1.7" height="1.7" fill="#222"/>
<rect x="361.0" y="304.96" width="7.2" height="23.04000000000002" fill="#000" stroke="#444" stroke-width="0.8"/>
<line x1="371.8" y1="258.88" x2="371.8" y2="248.07999999999998" stroke="#333" stroke-width="1"/>
<line x1="370.05" y1="248.07999999999998" x2="373.55" y2="248.07999999999998" stroke="#333" stroke-width="1"/>
<rect x="370.95" y="244.03" width="1.7" height="1.7" fill="#222"/>
<rect x="368.2" y="258.88" width="7.2" height="69.12" fill="#fff" stroke="#444" stroke-width="0.8"/>
<line x1="379.0" y1="235.12" x2="379.0" y2="215.32" stroke="#333" stroke-width="1"/>
<line x1="377.25" y1="215.32" x2="380.75" y2="215.32" stroke="#333" stroke-width="1"/>
<rect x="378.15" y="211.27" width="1.7" height="1.7" fill="#222"/>
<rect x="375.4" y="235.12" width="7.2" height="92.88" fill="#b4b4b4" stroke="#444" stroke-width="0.8"/>
<rect x="289.6" y="202" width="98.79999999999995" height="126" fill="none" stroke="#555" stroke-width="1"/>
<text x="285.6" y="330.5" font-size="7" text-anchor="end" fill="#1a1a1a" stroke="#1a1a1a" stroke-width="0.15">0</text>
<text x="285.6" y="312.5" font-size="7" text-anchor="end" fill="#1a1a1a" stroke="#1a1a1a" stroke-width="0.15">5</text>
<text x="285.6" y="294.5" font-size="7" text-anchor="end" fill="#1a1a1a" stroke="#1a1a1a" stroke-width="0.15">10</text>
<text x="285.6" y="276.5" font-size="7" text-anchor="end" fill="#1a1a1a" stroke="#1a1a1a" stroke-width="0.15">15</text>
<text x="285.6" y="258.5" font-size="7" text-anchor="end" fill="#1a1a1a" stroke="#1a1a1a" stroke-width="0.15">20</text>
<text x="285.6" y="240.5" font-size="7" text-anchor="end" fill="#1a1a1a" stroke="#1a1a1a" stroke-width="0.15">25</text>
<text x="285.6" y="222.5" font-size="7" text-anchor="end" fill="#1a1a1a" stroke="#1a1a1a" stroke-width="0.15">30</text>
<text x="285.6" y="204.5" font-size="7" text-anchor="end" fill="#1a1a1a" stroke="#1a1a1a" stroke-width="0.15">35</text>
<rect x="297.6" y="212.4" width="48" height="35.1" fill="#fff" stroke="#c0c0c0" stroke-width="0.8"/>
<rect x="301.4" y="216.2" width="4.6" height="6" fill="#000" stroke="#333" stroke-width="0.6"/>
<rect x="301.4" y="227.2" width="4.6" height="6" fill="#fff" stroke="#333" stroke-width="0.6"/>
<rect x="301.4" y="238.2" width="4.6" height="6" fill="#b4b4b4" stroke="#333" stroke-width="0.6"/>
<text x="308.5" y="222.2" font-size="7.7" text-anchor="start" fill="#222" stroke="#222" stroke-width="0.18">apoptotic</text>
<text x="308.5" y="233.2" font-size="7.7" text-anchor="start" fill="#222" stroke="#222" stroke-width="0.18">dead</text>
<text x="308.5" y="244.2" font-size="7.7" text-anchor="start" fill="#222" stroke="#222" stroke-width="0.18">total</text>
<text x="306" y="341" font-size="8" font-weight="bold" stroke="#000" stroke-width="0.25" text-anchor="middle" fill="#000">CTRL</text>
<text x="339" y="341" font-size="8" font-weight="bold" stroke="#000" stroke-width="0.25" text-anchor="middle" fill="#000">TLE1</text>
<text x="371.8" y="341" font-size="8" font-weight="bold" stroke="#000" stroke-width="0.25" text-anchor="middle" fill="#000">TLE4</text>
<text x="274.2" y="263.7" font-size="7.8" font-weight="bold" stroke="#000" stroke-width="0.25" text-anchor="middle" fill="#000" transform="rotate(-90 274.2 263.7)">Percent cells</text>
<text x="397.5" y="191.6" font-size="12" font-weight="bold" stroke="#000" stroke-width="0.25" text-anchor="start" fill="#000">H</text>
<line x1="419.6" y1="227.2" x2="515.9" y2="227.2" stroke="#cfcfcf" stroke-width="1"/>
<line x1="419.6" y1="252.4" x2="515.9" y2="252.4" stroke="#cfcfcf" stroke-width="1"/>
<line x1="419.6" y1="277.6" x2="515.9" y2="277.6" stroke="#cfcfcf" stroke-width="1"/>
<line x1="419.6" y1="302.8" x2="515.9" y2="302.8" stroke="#cfcfcf" stroke-width="1"/>
<path d="M426.20 226.70L437.40 228.50L454.20 234.20L470.60 234.20L487.80 234.20L497.40 236.40L511.80 237.00" fill="none" stroke="#222" stroke-width="1.1" stroke-dasharray="1.3,2"/>
<path d="M426.20 226.70C427.93 230.25 432.00 241.78 436.60 248.00C441.20 254.22 448.20 260.90 453.80 264.00C459.40 267.10 464.60 265.83 470.20 266.60C475.80 267.37 482.93 265.77 487.40 268.60C491.87 271.43 493.00 279.63 497.00 283.60C501.00 287.57 509.00 290.93 511.40 292.40" fill="none" stroke="#000" stroke-width="1.1"/>
<path d="M426.20 226.70C427.93 227.95 432.00 228.40 436.60 234.20C441.20 240.00 448.17 250.97 453.80 261.50C459.43 272.03 464.80 289.82 470.40 297.40C476.00 304.98 482.97 304.30 487.40 307.00C491.83 309.70 493.00 312.00 497.00 313.60C501.00 315.20 509.00 316.10 511.40 316.60" fill="none" stroke="#000" stroke-width="1.1"/>
<path d="M437.4 224.7L441.2 228.5L437.4 232.3L433.59999999999997 228.5Z" fill="#000"/>
<path d="M454.2 230.39999999999998L458.0 234.2L454.2 238.0L450.4 234.2Z" fill="#000"/>
<path d="M470.6 230.39999999999998L474.40000000000003 234.2L470.6 238.0L466.8 234.2Z" fill="#000"/>
<path d="M487.8 230.39999999999998L491.6 234.2L487.8 238.0L484.0 234.2Z" fill="#000"/>
<path d="M497.4 232.6L501.2 236.4L497.4 240.20000000000002L493.59999999999997 236.4Z" fill="#000"/>
<path d="M511.8 233.2L515.6 237L511.8 240.8L508.0 237Z" fill="#000"/>
<rect x="423.4" y="223.89999999999998" width="5.6" height="5.6" fill="#000"/>
<rect x="433.8" y="245.2" width="5.6" height="5.6" fill="#000"/>
<rect x="451.0" y="261.2" width="5.6" height="5.6" fill="#000"/>
<rect x="467.4" y="263.8" width="5.6" height="5.6" fill="#000"/>
<rect x="484.59999999999997" y="265.8" width="5.6" height="5.6" fill="#000"/>
<rect x="494.2" y="280.8" width="5.6" height="5.6" fill="#000"/>
<rect x="508.59999999999997" y="289.59999999999997" width="5.6" height="5.6" fill="#000"/>
<path d="M436.6 230.6L440.20000000000005 237.07999999999998L433.0 237.07999999999998Z" fill="#000"/>
<path d="M453.8 257.9L457.40000000000003 264.38L450.2 264.38Z" fill="#000"/>
<path d="M470.4 293.79999999999995L474.0 300.28L466.79999999999995 300.28Z" fill="#000"/>
<path d="M487.4 303.4L491.0 309.88L483.79999999999995 309.88Z" fill="#000"/>
<path d="M497 310.0L500.6 316.48L493.4 316.48Z" fill="#000"/>
<path d="M511.4 313.0L515.0 319.48L507.79999999999995 319.48Z" fill="#000"/>
<rect x="419.6" y="202" width="96.29999999999995" height="126" fill="none" stroke="#444" stroke-width="1"/>
<text x="417.6" y="204.5" font-size="6.8" text-anchor="end" fill="#1a1a1a" stroke="#1a1a1a" stroke-width="0.15">0.5</text>
<text x="417.6" y="229.7" font-size="6.8" text-anchor="end" fill="#1a1a1a" stroke="#1a1a1a" stroke-width="0.15">1.0</text>
<text x="417.6" y="254.9" font-size="6.8" text-anchor="end" fill="#1a1a1a" stroke="#1a1a1a" stroke-width="0.15">1.5</text>
<text x="417.6" y="280.1" font-size="6.8" text-anchor="end" fill="#1a1a1a" stroke="#1a1a1a" stroke-width="0.15">2.0</text>
<text x="417.6" y="305.3" font-size="6.8" text-anchor="end" fill="#1a1a1a" stroke="#1a1a1a" stroke-width="0.15">2.5</text>
<text x="417.6" y="330.5" font-size="6.8" text-anchor="end" fill="#1a1a1a" stroke="#1a1a1a" stroke-width="0.15">3.0</text>
<text x="419.6" y="335.8" font-size="7.6" text-anchor="middle" fill="#222" stroke="#222" stroke-width="0.18">0</text>
<text x="443.8" y="335.8" font-size="7.6" text-anchor="middle" fill="#222" stroke="#222" stroke-width="0.18">10</text>
<text x="468.0" y="335.8" font-size="7.6" text-anchor="middle" fill="#222" stroke="#222" stroke-width="0.18">20</text>
<text x="492.20000000000005" y="335.8" font-size="7.6" text-anchor="middle" fill="#222" stroke="#222" stroke-width="0.18">30</text>
<text x="516.4" y="335.8" font-size="7.6" text-anchor="middle" fill="#222" stroke="#222" stroke-width="0.18">40</text>
<text x="468.8" y="345" font-size="8" font-weight="bold" stroke="#000" stroke-width="0.25" text-anchor="middle" fill="#000">Day</text>
<text x="467" y="225.8" font-size="7.7" text-anchor="start" fill="#222" stroke="#222" stroke-width="0.18">Ctrl</text>
<text x="493.6" y="271.4" font-size="7.7" text-anchor="start" fill="#222" stroke="#222" stroke-width="0.18">TLE4</text>
<text x="445" y="294.8" font-size="7.7" text-anchor="start" fill="#222" stroke="#222" stroke-width="0.18">TLE1</text>
<text x="405" y="266.4" font-size="7.9" font-weight="bold" stroke="#000" stroke-width="0.25" text-anchor="middle" fill="#000" transform="rotate(-90 405 266.4)">Fold change in&#160;&#160;GFP<tspan font-size="5" dy="-3">+</tspan><tspan dy="3"> cells</tspan></text>
</svg>
</body></html>
